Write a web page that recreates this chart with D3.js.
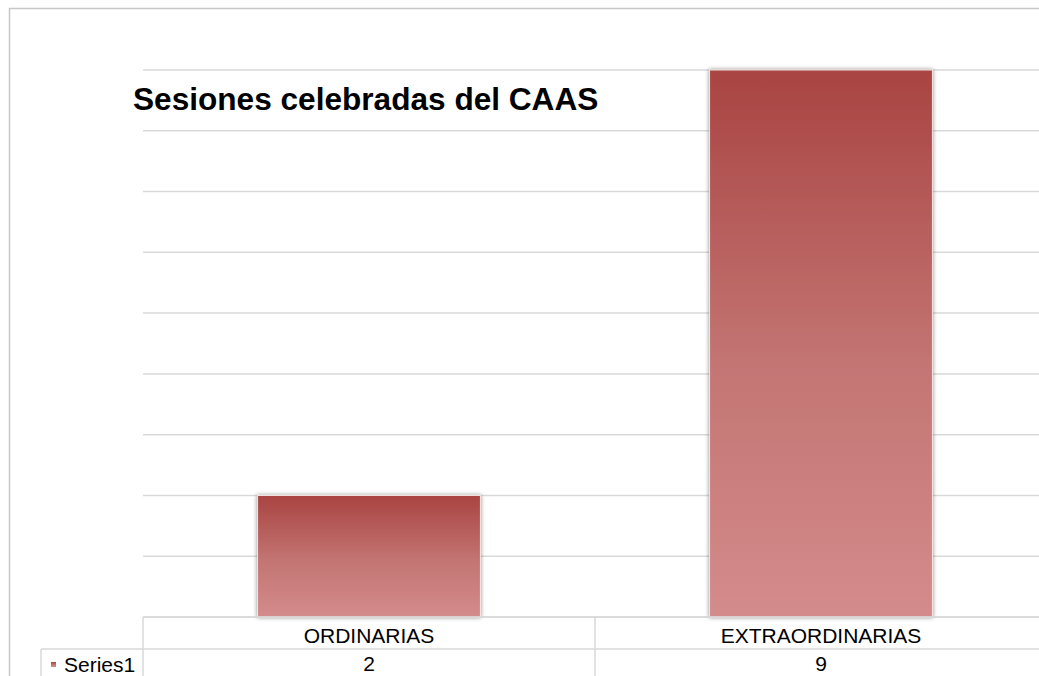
<!DOCTYPE html>
<html>
<head>
<meta charset="utf-8">
<script src="https://cdn.jsdelivr.net/npm/d3@7"></script>
<style>
  body { margin: 0; background: #fff; }
  text { font-family: "Liberation Sans", Arial, sans-serif; }
</style>
</head>
<body>
<div id="chart"></div>
<script>
// chart data
var categories = ["ORDINARIAS", "EXTRAORDINARIAS"];
var seriesName = "Series1";
var values = [2, 9];
var yTicks = [0, 1, 2, 3, 4, 5, 6, 7, 8, 9];

var W = 1039, H = 676;
var plot = {left: 143, top: 70, bottom: 617, right: 1047};

var svg = d3.select("#chart")
    .append("svg")
    .attr("width", W)
    .attr("height", H);

var defs = svg.append("defs");
var grad = defs.append("linearGradient")
    .attr("id", "barGrad")
    .attr("x1", 0).attr("y1", 0).attr("x2", 0).attr("y2", 1);
grad.append("stop").attr("offset", "0%").attr("stop-color", "#a94442");
grad.append("stop").attr("offset", "55%").attr("stop-color", "#c37674");
grad.append("stop").attr("offset", "100%").attr("stop-color", "#d48b8b");

var shadow = defs.append("filter")
    .attr("id", "shadow")
    .attr("x", "-10%").attr("y", "-10%")
    .attr("width", "120%").attr("height", "120%");
shadow.append("feDropShadow")
    .attr("dx", 0).attr("dy", 0)
    .attr("stdDeviation", 2)
    .attr("flood-color", "#000")
    .attr("flood-opacity", 0.45);

// outer chart frame (left and top edges visible)
svg.append("path")
  .attr("d", "M9.5," + H + "V8.5H" + W)
  .attr("fill", "none")
  .attr("stroke", "#c8c8c8")
  .attr("stroke-width", 1.5);

var x = d3.scaleBand().domain(categories).range([plot.left, plot.right]).paddingInner(0).paddingOuter(0);
var y = d3.scaleLinear().domain([0, 9]).range([plot.bottom, plot.top]);

// gridlines
svg.append("g")
  .selectAll("line")
  .data(yTicks)
  .enter()
  .append("line")
    .attr("x1", plot.left)
    .attr("x2", W)
    .attr("y1", function(d) { return y(d); })
    .attr("y2", function(d) { return y(d); })
    .attr("stroke", "#d9d9d9")
    .attr("stroke-width", 1.5);

// bars
var barW = x.bandwidth() * 0.493;
svg.append("g")
  .selectAll("rect")
  .data(values)
  .enter()
  .append("rect")
    .attr("x", function(d, i) { return x(categories[i]) + (x.bandwidth() - barW) / 2; })
    .attr("y", function(d) { return y(d); })
    .attr("width", barW)
    .attr("height", function(d) { return y(0) - y(d); })
    .attr("fill", "url(#barGrad)")
    .attr("stroke", "#f4e6e6")
    .attr("stroke-width", 1)
    .attr("filter", "url(#shadow)");

// data table
var rowH = 32;
var table = svg.append("g").attr("fill", "none").attr("stroke", "#d9d9d9").attr("stroke-width", 1.5);
table.append("line").attr("x1", plot.left).attr("x2", W).attr("y1", plot.bottom).attr("y2", plot.bottom);
table.append("line").attr("x1", 41).attr("x2", W).attr("y1", plot.bottom + rowH).attr("y2", plot.bottom + rowH);
table.append("line").attr("x1", plot.left).attr("x2", plot.left).attr("y1", plot.bottom).attr("y2", H);
table.append("line").attr("x1", 41).attr("x2", 41).attr("y1", plot.bottom + rowH).attr("y2", H);
table.selectAll(".div")
  .data(categories.slice(1))
  .enter()
  .append("line")
    .attr("x1", function(d) { return x(d); })
    .attr("x2", function(d) { return x(d); })
    .attr("y1", plot.bottom)
    .attr("y2", H);

svg.append("g")
  .selectAll("text")
  .data(categories)
  .enter()
  .append("text")
    .attr("x", function(d) { return x(d) + x.bandwidth() / 2; })
    .attr("y", 643)
    .attr("text-anchor", "middle")
    .style("font-size", "21px")
    .attr("fill", "#000")
    .text(function(d) { return d; });

svg.append("g")
  .selectAll("text")
  .data(values)
  .enter()
  .append("text")
    .attr("x", function(d, i) { return x(categories[i]) + x.bandwidth() / 2; })
    .attr("y", 671)
    .attr("text-anchor", "middle")
    .style("font-size", "21px")
    .attr("fill", "#000")
    .text(function(d) { return d; });

// legend key in table
svg.append("rect")
  .attr("x", 51).attr("y", 662)
  .attr("width", 5).attr("height", 5)
  .attr("fill", "url(#barGrad)");
svg.append("text")
  .attr("x", 64).attr("y", 672)
  .style("font-size", "21px")
  .attr("fill", "#000")
  .text(seriesName);

// title
svg.append("text")
  .attr("x", 133).attr("y", 110)
  .style("font-size", "31.6px")
  .style("font-weight", "bold")
  .attr("fill", "#000")
  .text("Sesiones celebradas del CAAS");
</script>
</body>
</html>
